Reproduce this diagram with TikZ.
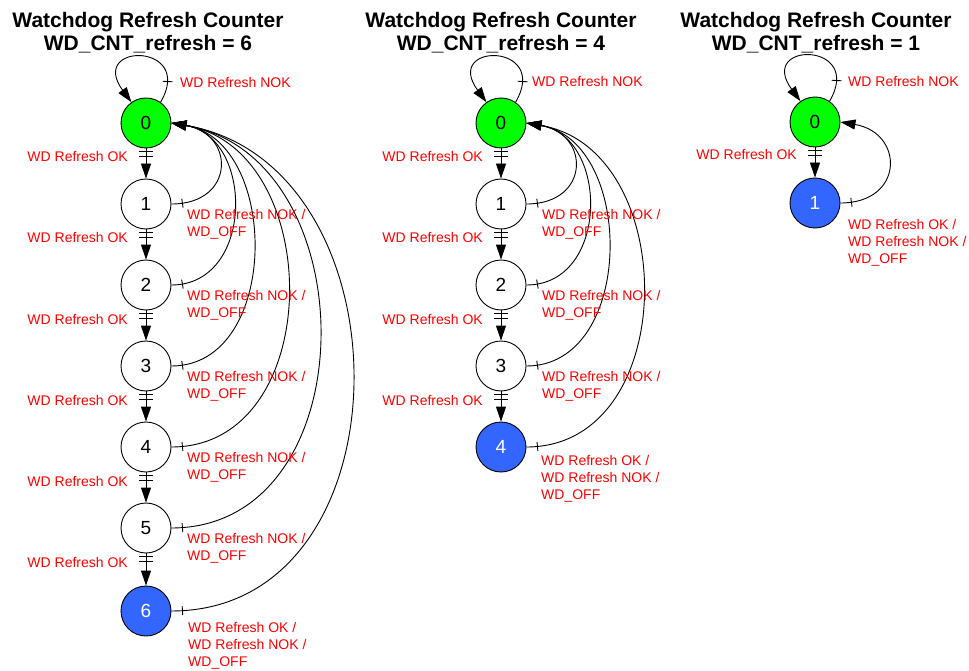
\documentclass[tikz,border=0pt]{standalone}
\usepackage{fontspec}
\setmainfont{Liberation Sans}
\usetikzlibrary{arrows.meta,decorations.markings}
\definecolor{stgreen}{RGB}{0,255,0}
\definecolor{stblue}{RGB}{51,102,255}
\begin{document}
\begin{tikzpicture}[x=1pt,y=-1pt,
  state/.style={circle,draw,line width=0.9pt,minimum size=50pt,inner sep=0pt,font=\fontsize{19}{19}\selectfont},
  startst/.style={state,fill=stgreen},
  finalst/.style={state,fill=stblue,text=white},
  tipstyle/.style={-{Triangle[length=15pt,width=10pt]}},
  tick/.style={arrows=-,line width=0.9pt},
  okedge/.style={tipstyle,line width=0.9pt,postaction={decorate},
    decoration={markings,
      mark=at position 3pt with {\draw[tick] (0pt,-7pt)--(0pt,7pt);},
      mark=at position 8pt with {\draw[tick] (0pt,-7pt)--(0pt,7pt);}}},
  nokedge/.style={tipstyle,line width=0.9pt,postaction={decorate},
    decoration={markings,
      mark=at position 11pt with {\draw[tick] (0pt,-4.5pt)--(0pt,4.5pt);}}},
  loopedge/.style={tipstyle,line width=0.9pt,postaction={decorate},
    decoration={markings,
      mark=at position 22pt with {\draw[tick] (0pt,-5pt)--(0pt,5pt);}}},
  lbl/.style={text=red,font=\fontsize{14}{17}\selectfont,inner sep=0pt,align=left},
  title/.style={font=\bfseries\fontsize{21}{23}\selectfont,inner sep=0pt,align=center,anchor=north}
]
\useasboundingbox (0,0) rectangle (969,671);

% ---------- titles
\node[title] (T1) at (148,11.7) {Watchdog Refresh Counter\\WD\_CNT\_refresh = 6};
\node[title] (T2) at (501,11.7) {Watchdog Refresh Counter\\WD\_CNT\_refresh = 4};
\node[title] (T3) at (816,11.7) {Watchdog Refresh Counter\\WD\_CNT\_refresh = 1};

% ---------- left column
\node[startst] (L0) at (146,123) {0};
\foreach \i/\y in {1/204,2/285,3/366,4/447,5/528}
  \node[state] (L\i) at (146,\y) {\i};
\node[finalst] (L6) at (146,611) {6};
\foreach \i/\y in {0/123,1/204,2/285,3/366,4/447,5/528}{
  \pgfmathtruncatemacro\j{\i+1}
  \draw[okedge] (L\i.south) -- (L\j.north);
  \node[lbl,anchor=base east] (Lok\i) at (128,\y+39) {WD Refresh OK};
}
\foreach \i/\a in {1/64,2/83,3/109,4/155,5/197,6/241}{
  \pgfmathsetmacro\c{0.17*\a}
  \draw[nokedge] (L\i.east) .. controls +(\a,0) and +(\a,\c) .. (L0.east);
}
\foreach \i/\y in {1/204,2/285,3/366,4/447,5/528}
  \node[lbl,anchor=north west] (Lnok\i) at (187,\y+4.8) {WD Refresh NOK /\\WD\_OFF};
\node[lbl,anchor=north west] (Lfin) at (188,621.8) {WD Refresh OK /\\WD Refresh NOK /\\WD\_OFF};
\draw[loopedge] (L0.55) .. controls +(35,-60) and +(-44,-60) .. (L0.125);
\node[lbl,anchor=base west] (Lloop) at (180,88) {WD Refresh NOK};

% ---------- middle column
\node[startst] (M0) at (501,123) {0};
\foreach \i/\y in {1/204,2/285,3/366}
  \node[state] (M\i) at (501,\y) {\i};
\node[finalst] (M4) at (501,447) {4};
\foreach \i/\y in {0/123,1/204,2/285,3/366}{
  \pgfmathtruncatemacro\j{\i+1}
  \draw[okedge] (M\i.south) -- (M\j.north);
  \node[lbl,anchor=base east] (Mok\i) at (483,\y+39) {WD Refresh OK};
}
\foreach \i/\a in {1/64,2/83,3/109,4/155}{
  \pgfmathsetmacro\c{0.17*\a}
  \draw[nokedge] (M\i.east) .. controls +(\a,0) and +(\a,\c) .. (M0.east);
}
\foreach \i/\y in {1/204,2/285,3/366}
  \node[lbl,anchor=north west] (Mnok\i) at (542,\y+4.8) {WD Refresh NOK /\\WD\_OFF};
\node[lbl,anchor=north west] (Mfin) at (541,454.8) {WD Refresh OK /\\WD Refresh NOK /\\WD\_OFF};
\draw[loopedge] (M0.55) .. controls +(35,-60) and +(-44,-60) .. (M0.125);
\node[lbl,anchor=base west] (Mloop) at (532,87) {WD Refresh NOK};

% ---------- right column
\node[startst] (R0) at (815,122) {0};
\node[finalst] (R1) at (815,203) {1};
\draw[okedge] (R0.south) -- (R1.north);
\node[lbl,anchor=base east] (Rok0) at (797,160) {WD Refresh OK};
\draw[nokedge] (R1.east) .. controls +(64,0) and +(64,10.9) .. (R0.east);
\node[lbl,anchor=north west] (Rfin) at (848,218.8) {WD Refresh OK /\\WD Refresh NOK /\\WD\_OFF};
\draw[loopedge] (R0.55) .. controls +(35,-60) and +(-44,-60) .. (R0.125);
\node[lbl,anchor=base west] (Rloop) at (848,87) {WD Refresh NOK};
\end{tikzpicture}
\end{document}
